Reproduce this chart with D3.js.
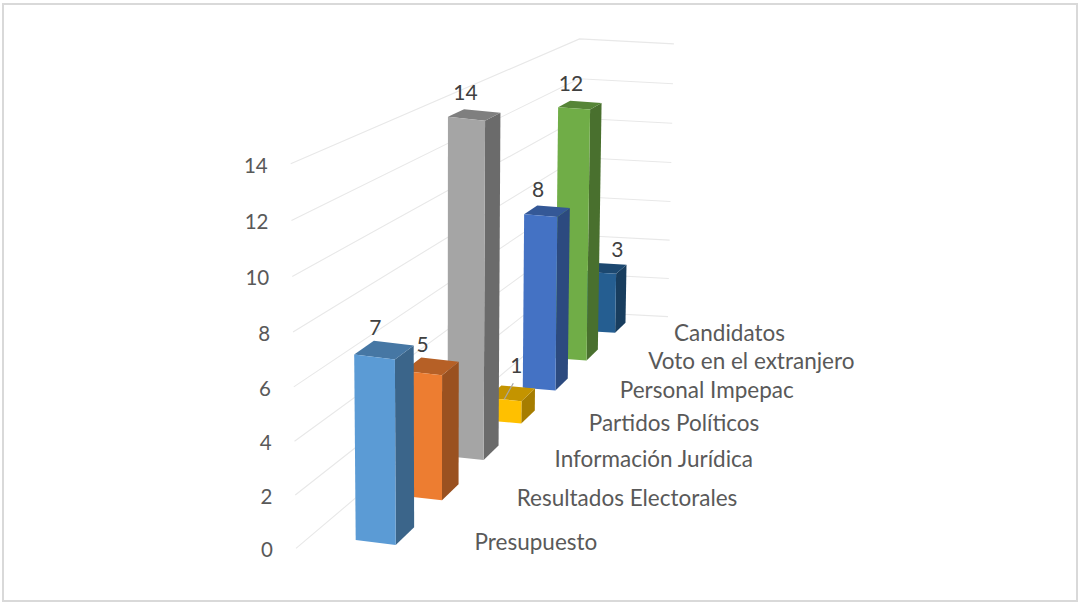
<!DOCTYPE html>
<html><head><meta charset="utf-8">
<script src="https://cdn.jsdelivr.net/npm/d3@7"></script>
<style>html,body{margin:0;padding:0;background:#fff}svg{display:block}text{font-family:Lato,"Open Sans",sans-serif}</style>
</head><body><svg id="c" width="1080" height="603"></svg>
<script>
const categories = ["Presupuesto","Resultados Electorales","Información Jurídica","Partidos Políticos","Personal Impepac","Voto en el extranjero","Candidatos"];
const values = [7,5,14,1,8,12,3];
const colors = ["#5B9BD5","#ED7D31","#A5A5A5","#FFC000","#4472C4","#70AD47","#255E91"];
const yTicks = [0,2,4,6,8,10,12,14];

const svg = d3.select("#c");
// scales: category -> depth index, value -> height unit
const depth = d3.scalePoint().domain(categories).range([0,6]);
const height = d3.scaleLinear().domain([0,14]).range([0,14]);
const labelLift = d3.scaleLinear().domain([0,6]).range([0.5,0.18]);

// perspective projection of (lateral a, depth d, value v) to the screen
function project(a,d,v){
  const h = height(v);
  const w = 1 + 0.0563*d - 0.0025*h;
  return [
    (355.7 + 40*a + 71.2*d - 1.1*h)/w,
    (540 + a*(5-0.43*d) - 16.2*d - 27.4*(1-0.0025*d)*h)/w
  ];
}
const line = d3.line();
const BAR_DEPTH = 0.385;

svg.append("rect").attr("x",3).attr("y",4).attr("width",1074).attr("height",597)
  .attr("fill","#fff").attr("stroke","#d9d9d9").attr("stroke-width",2);

// walls
const wallFront=[-1.09,-0.295], wallBack=[-0.986,6.7], wallRight=[2.18,6.7];
svg.append("g").selectAll("path").data(yTicks).join("path")
  .attr("d",t=>line([project(wallFront[0],wallFront[1],t),project(wallBack[0],wallBack[1],t),project(wallRight[0],wallRight[1],t)]))
  .attr("fill","none").attr("stroke","#e8e8e8").attr("stroke-width",1.1);

// y tick labels
svg.append("g").selectAll("text").data(yTicks).join("text")
  .attr("x",t=>project(wallFront[0],wallFront[1],t)[0]-23)
  .attr("y",t=>project(wallFront[0],wallFront[1],t)[1]+1)
  .attr("text-anchor","end").attr("dominant-baseline","central")
  .attr("font-size",20.5).attr("fill","#595959").text(t=>t);

// category labels
const catPos = c=>project(2.97,depth(c),labelLift(depth(c)));
svg.append("g").selectAll("text").data(categories).join("text")
  .attr("x",c=>catPos(c)[0])
  .attr("y",c=>catPos(c)[1])
  .attr("dominant-baseline","central")
  .attr("font-size",22.5).attr("fill","#595959").text(c=>c);

const shade=(hex,f)=>{const c=d3.rgb(hex);return d3.rgb(c.r*f,c.g*f,c.b*f).formatHex();};

// bars, back to front
const rows = categories.map((c,i)=>({c,v:values[i],col:colors[i]})).reverse();
const bars = svg.append("g").selectAll("g").data(rows).join("g");
bars.append("path").attr("fill",r=>shade(r.col,0.65)).attr("d",r=>{const d=depth(r.c);
  return line([project(1,d,0),project(1,d+BAR_DEPTH,0),project(1,d+BAR_DEPTH,r.v),project(1,d,r.v)])+"Z";});
bars.append("path").attr("fill",r=>shade(r.col,0.77)).attr("d",r=>{const d=depth(r.c);
  return line([project(0,d,r.v),project(1,d,r.v),project(1,d+BAR_DEPTH,r.v),project(0,d+BAR_DEPTH,r.v)])+"Z";});
bars.append("path").attr("fill",r=>r.col).attr("d",r=>{const d=depth(r.c);
  return line([project(0,d,0),project(1,d,0),project(1,d,r.v),project(0,d,r.v)])+"Z";});

// data labels: centred above the bar top; two labels were moved aside in the original
const labelNudge = {"Candidatos":[20,3],"Partidos Políticos":[14,-6]};
const labelPos = r=>{const p=project(0.5,depth(r.c)+BAR_DEPTH/2,r.v),n=labelNudge[r.c]||[0,0];return [p[0]-9+n[0],p[1]-23+n[1]];};
svg.append("g").selectAll("text").data(rows).join("text")
  .attr("x",r=>labelPos(r)[0]).attr("y",r=>labelPos(r)[1])
  .attr("text-anchor","middle").attr("dominant-baseline","central")
  .attr("font-size",21).attr("fill","#404040").text(r=>r.v);

// leader line of the small bar's label
const small = rows.find(r=>r.c==="Partidos Políticos");
const lp = labelPos(small);
svg.append("path").attr("fill","none").attr("stroke","#a6a6a6").attr("stroke-width",1.2)
  .attr("d",line([[lp[0]-3,lp[1]+19],[lp[0]-12,lp[1]+35]]));
</script></body></html>
